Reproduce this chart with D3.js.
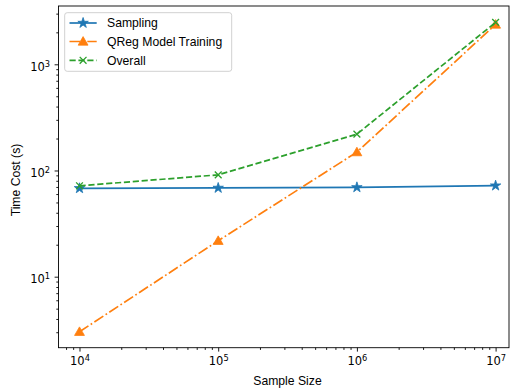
<!DOCTYPE html>
<html>
<head>
<meta charset="utf-8">
<script src="https://cdn.jsdelivr.net/npm/d3@7"></script>
<style>
  html, body { margin: 0; padding: 0; background: #fff; }
  svg { display: block; font-family: "Liberation Sans", Arial, sans-serif; }
</style>
</head>
<body>
<svg id="chart" width="510" height="388"></svg>
<script>
// Sample sizes and measured time costs (seconds)
const sampleSizes = [1e4, 1e5, 1e6, 1e7];
const samplingCost = [68, 68.5, 69.4, 72];
const qregTrainingCost = [3.03, 21.8, 149, 2370];
const overallCost = [71.8, 91, 220, 2480];

const xMajorTicks = [1e4, 1e5, 1e6, 1e7];
const yMajorTicks = [1e1, 1e2, 1e3];
const seriesNames = ["Sampling", "QReg Model Training", "Overall"];

const svg = d3.select("#chart");
const plot = { left: 58.5, right: 509, top: 6, bottom: 347.7 };

const x = d3.scaleLog()
  .domain([Math.pow(10, 3.8486), Math.pow(10, 7.0966)])
  .range([plot.left, plot.right]);
const y = d3.scaleLog()
  .domain([Math.pow(10, 0.3314), Math.pow(10, 3.549)])
  .range([plot.bottom, plot.top]);

const TICK_FONT = 11.5;
const FONT = 12.2;
const LW = 1.7;

function minorTicks(scale) {
  const [a, b] = scale.domain();
  const out = [];
  for (let e = Math.floor(Math.log10(a)); e <= Math.ceil(Math.log10(b)); e++) {
    for (let m = 2; m <= 9; m++) {
      const v = m * Math.pow(10, e);
      if (v >= a && v <= b) out.push(v);
    }
  }
  return out;
}

function powerLabel(sel, v) {
  const exp = Math.round(Math.log10(v));
  sel.text(null);
  sel.append("tspan").text("10");
  sel.append("tspan").attr("dy", "-0.45em").attr("font-size", TICK_FONT * 0.72).text(exp);
}

// Axes
const xAxis = svg.append("g").attr("transform", `translate(0,${plot.bottom})`);
xAxis.call(d3.axisBottom(x).tickValues(minorTicks(x)).tickSize(2.2).tickFormat(""));
const xMajor = svg.append("g").attr("transform", `translate(0,${plot.bottom})`);
xMajor.call(d3.axisBottom(x).tickValues(xMajorTicks).tickSize(3.9).tickPadding(4.5));
xMajor.selectAll(".tick text")
  .attr("font-size", TICK_FONT).attr("font-family", "DejaVu Sans").attr("fill", "#000")
  .attr("dy", "0.78em")
  .each(function (d) { powerLabel(d3.select(this), d); });

const yAxis = svg.append("g").attr("transform", `translate(${plot.left},0)`);
yAxis.call(d3.axisLeft(y).tickValues(minorTicks(y)).tickSize(2.2).tickFormat(""));
const yMajor = svg.append("g").attr("transform", `translate(${plot.left},0)`);
yMajor.call(d3.axisLeft(y).tickValues(yMajorTicks).tickSize(3.9).tickPadding(4.5));
yMajor.selectAll(".tick text")
  .attr("font-size", TICK_FONT).attr("font-family", "DejaVu Sans").attr("fill", "#000")
  .attr("dy", "0.5em")
  .each(function (d) { powerLabel(d3.select(this), d); });

svg.selectAll(".domain").remove();
svg.selectAll(".tick line").attr("stroke", "#000").attr("stroke-width", 0.9);

// Frame
svg.append("rect")
  .attr("x", plot.left).attr("y", plot.top)
  .attr("width", plot.right - plot.left).attr("height", plot.bottom - plot.top)
  .attr("fill", "none").attr("stroke", "#000").attr("stroke-width", 0.9);

// Axis titles
svg.append("text")
  .attr("x", 287.5).attr("y", 384.5)
  .attr("text-anchor", "middle").attr("font-size", FONT).attr("fill", "#000")
  .text("Sample Size");
svg.append("text")
  .attr("transform", "translate(19.5,180) rotate(-90)")
  .attr("text-anchor", "middle").attr("font-size", FONT).attr("fill", "#000")
  .text("Time Cost (s)");

// Series
const series = [
  { name: seriesNames[0], values: samplingCost, color: "#1f77b4", dash: null, marker: "star" },
  { name: seriesNames[1], values: qregTrainingCost, color: "#ff7f0e", dash: "10.7,2.7,1.7,2.7", marker: "triangle" },
  { name: seriesNames[2], values: overallCost, color: "#2ca02c", dash: "6.2,2.7", marker: "x" }
];

const line = d3.line().x(d => x(d[0])).y(d => y(d[1]));

function drawMarker(g, type, color, cx, cy) {
  if (type === "star") {
    g.append("path").attr("d", d3.symbol(d3.symbolStar, 34)())
      .attr("transform", `translate(${cx},${cy})`).attr("fill", color).attr("stroke", color).attr("stroke-width", 0.8);
  } else if (type === "triangle") {
    g.append("path").attr("d", d3.symbol(d3.symbolTriangle, 42)())
      .attr("transform", `translate(${cx},${cy + 0.8})`).attr("fill", color).attr("stroke", color).attr("stroke-width", 0.8);
  } else {
    const r = 3.4;
    g.append("path").attr("d", `M${cx - r},${cy - r}L${cx + r},${cy + r}M${cx - r},${cy + r}L${cx + r},${cy - r}`)
      .attr("stroke", color).attr("stroke-width", 1.3).attr("fill", "none");
  }
}

const plotG = svg.append("g");
series.forEach(s => {
  const pts = sampleSizes.map((v, i) => [v, s.values[i]]);
  plotG.append("path").datum(pts)
    .attr("d", line).attr("fill", "none")
    .attr("stroke", s.color).attr("stroke-width", LW)
    .attr("stroke-dasharray", s.dash);
  pts.forEach(p => drawMarker(plotG, s.marker, s.color, x(p[0]), y(p[1])));
});

// Legend
const legend = svg.append("g");
legend.append("rect")
  .attr("x", 64.7).attr("y", 12.7).attr("width", 167).attr("height", 58.6)
  .attr("rx", 2.5).attr("fill", "#fff").attr("fill-opacity", 0.8)
  .attr("stroke", "#ccc").attr("stroke-width", 0.9);
const rowY = [23, 41.5, 60.3];
series.forEach((s, i) => {
  const ly = rowY[i];
  legend.append("line")
    .attr("x1", 69.5).attr("x2", 96.7).attr("y1", ly).attr("y2", ly)
    .attr("stroke", s.color).attr("stroke-width", LW)
    .attr("stroke-dasharray", s.dash);
  drawMarker(legend, s.marker, s.color, 83.1, ly);
  legend.append("text")
    .attr("x", 107).attr("y", ly).attr("dy", "0.36em")
    .attr("font-size", FONT).attr("fill", "#000")
    .text(s.name);
});
</script>
</body>
</html>
